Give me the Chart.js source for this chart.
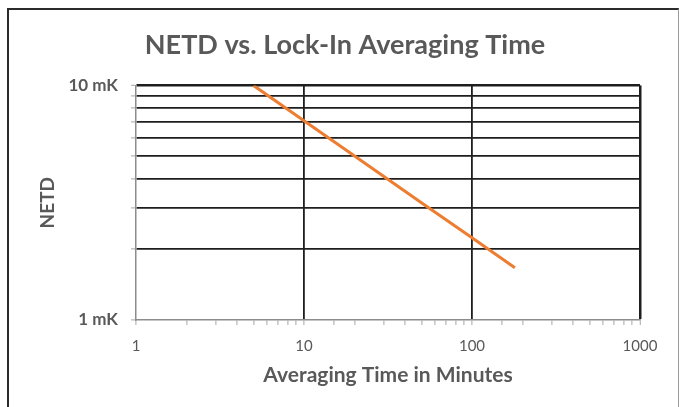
<!DOCTYPE html>
<html>
<head>
<meta charset="utf-8">
<script src="https://cdn.jsdelivr.net/npm/chart.js@4.4.0/dist/chart.umd.min.js"></script>
<style>
  html, body { margin: 0; padding: 0; background: #fff; }
  #wrap { position: relative; width: 679px; height: 407px; overflow: hidden; }
  #frame {
    position: absolute; left: 7px; top: 8px; width: 669px; height: 420px;
    border-left: 2px solid #2b2b2b; border-top: 2px solid #2b2b2b; border-right: 1px solid #9a9a9a;
  }
  #myChart { position: absolute; left: 0; top: 0; }
</style>
</head>
<body>
<div id="wrap">
  <div id="frame"></div>
  <canvas id="myChart" width="679" height="407"></canvas>
</div>
<script>
// averaging time (minutes) and NETD (mK)
const times = [5, 10, 20, 50, 100, 180];
const netd = [10, 7.07, 5, 3.16, 2.24, 1.67];
const xLabels = [1, 10, 100, 1000];
const yLabels = [1, 10];

const gray = '#595959';
const gridDark = '#1e1e1e';

// keep only 1..9 x decade ticks (v4 adds 1.1, 1.2 ... on short ranges)
const wholeTicks = (scale) => {
  scale.ticks = scale.ticks.filter(t => Number.isInteger(t.value));
};

const ctx = document.getElementById('myChart').getContext('2d');

new Chart(ctx, {
  type: 'line',
  data: {
    datasets: [{
      label: 'NETD',
      data: times.map((t, i) => ({ x: t, y: netd[i] })),
      borderColor: '#ED7D31',
      borderWidth: 3,
      pointRadius: 0,
      fill: false,
      tension: 0
    }]
  },
  options: {
    responsive: false,
    animation: false,
    layout: { padding: { left: 50, right: 39, top: 0, bottom: 0 } },
    plugins: {
      legend: { display: false },
      tooltip: { enabled: false },
      title: {
        display: true,
        text: 'NETD vs. Lock-In Averaging Time',
        color: gray,
        font: { family: 'Lato', size: 27, weight: 'bold' },
        padding: { top: 29, bottom: 24 }
      }
    },
    scales: {
      x: {
        type: 'logarithmic',
        min: 1,
        max: 1000,
        afterBuildTicks: wholeTicks,
        afterFit: (scale) => { scale.height = 87; },
        grid: {
          color: (c) => (c.tick && (c.tick.value === 10 || c.tick.value === 100 || c.tick.value === 1000)) ? gridDark : 'rgba(0,0,0,0)',
          lineWidth: (c) => (c.tick && c.tick.value === 1000) ? 2.5 : 1.8,
          tickColor: '#a6a6a6',
          tickLength: 5,
          tickWidth: 1
        },
        border: { display: true, color: '#8c8c8c', width: 1.5 },
        ticks: {
          autoSkip: false,
          maxRotation: 0,
          padding: 12,
          color: gray,
          font: { family: 'Lato', size: 15 },
          callback: (v) => xLabels.includes(v) ? String(v) : ''
        },
        title: {
          display: true,
          text: 'Averaging Time in Minutes',
          color: gray,
          font: { family: 'Lato', size: 21, weight: 'bold' },
          padding: { top: 0, bottom: 19 }
        }
      },
      y: {
        type: 'logarithmic',
        min: 1,
        max: 10,
        afterBuildTicks: wholeTicks,
        afterFit: (scale) => { scale.width = 86; },
        grid: {
          color: (c) => (c.tick && c.tick.value !== 1) ? gridDark : 'rgba(0,0,0,0)',
          lineWidth: (c) => (c.tick && c.tick.value === 10) ? 2.5 : 1.8,
          tickColor: '#a6a6a6',
          tickLength: 5,
          tickWidth: 1
        },
        border: { display: true, color: '#8c8c8c', width: 1.5 },
        ticks: {
          autoSkip: false,
          padding: 13,
          color: gray,
          font: { family: 'Lato', size: 17, weight: 'bold' },
          callback: (v) => yLabels.includes(v) ? v + ' mK' : ''
        },
        title: {
          display: true,
          text: 'NETD',
          color: gray,
          font: { family: 'Lato', size: 19, weight: 'bold' },
          padding: { top: -14, bottom: 0 }
        }
      }
    }
  }
});
</script>
</body>
</html>
